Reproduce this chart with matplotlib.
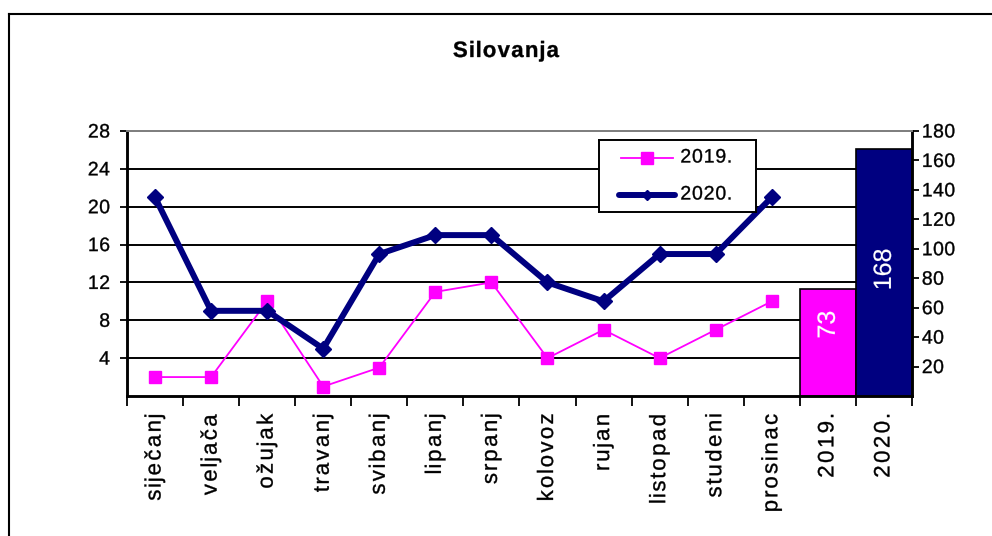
import matplotlib
matplotlib.use("Agg")
import numpy as np
import matplotlib.pyplot as plt
from matplotlib.lines import Line2D
from matplotlib.path import Path
from matplotlib.patheffects import AbstractPathEffect

plt.rcParams["font.family"] = ["Liberation Sans", "DejaVu Sans"]

months = ["siječanj", "veljača", "ožujak", "travanj", "svibanj", "lipanj",
          "srpanj", "kolovoz", "rujan", "listopad", "studeni", "prosinac"]
total_labels = ["2019.", "2020."]
cases_2019 = [2, 2, 10, 1, 3, 11, 12, 4, 7, 4, 7, 10]
cases_2020 = [21, 9, 9, 5, 15, 17, 17, 12, 10, 15, 15, 21]
totals = [73, 168]

MAGENTA = "#FF00FF"
NAVY = "#000080"


class Spaced(AbstractPathEffect):
    """Spread the glyphs of a text apart and thicken them a little
    (the original is rendered with loose, heavy lettering)."""

    def __init__(self, factor=1.0, anchor="center", stroke=0.25):
        super().__init__()
        self.factor = factor
        self.anchor = anchor
        self.stroke = stroke

    def draw_path(self, renderer, gc, tpath, affine, rgbFace=None):
        codes = tpath.codes
        verts = tpath.vertices.copy()
        if codes is not None and len(verts) and self.factor != 1:
            real = codes != Path.CLOSEPOLY
            xmin, xmax = verts[real, 0].min(), verts[real, 0].max()
            ref = {"left": xmin, "center": (xmin + xmax) / 2,
                   "right": xmax}[self.anchor]
            starts = np.flatnonzero(codes == Path.MOVETO)
            ends = np.append(starts[1:], len(verts))
            for s, e in zip(starts, ends):
                xs = verts[s:e, 0][real[s:e]]
                cx = (xs.min() + xs.max()) / 2
                verts[s:e, 0] += (self.factor - 1) * (cx - ref)
        gc0 = renderer.new_gc()
        gc0.copy_properties(gc)
        if rgbFace is not None:
            gc0.set_foreground(rgbFace)
            gc0.set_linewidth(self.stroke)
        renderer.draw_path(gc0, Path(verts, codes), affine, rgbFace)
        gc0.restore()


fig = plt.figure(figsize=(9.92, 5.36), dpi=100)
ax = fig.add_axes([0.128, 0.2612, 0.7913, 0.4944])
ax2 = ax.twinx()

x_months = list(range(len(months)))
x_totals = [len(months) + i for i in range(len(totals))]
categories = months + total_labels

ax.plot(x_months, cases_2019, color=MAGENTA, lw=1.3, marker="s", ms=9,
        zorder=3)
ax.plot(x_months, cases_2020, color=NAVY, lw=4.3, marker="D", ms=8.5,
        zorder=4)

ax2.bar(x_totals, totals, width=1.0, color=[MAGENTA, NAVY],
        edgecolor="black", linewidth=1.2)
label_shift = [12, 2]
for xb, v, dy in zip(x_totals, totals, label_shift):
    ax2.text(xb, v / 2 + dy, str(v), rotation=90, ha="center", va="center",
             color="white", fontsize=18, path_effects=[Spaced(stroke=0.15)])

# left axis
ax.set_xlim(-0.5, len(categories) - 0.5)
ax.set_ylim(0, 28)
ax.set_yticks(range(4, 29, 4))
ax.yaxis.grid(True, color="black", lw=1.4)
ax.set_axisbelow(True)
ax.set_xticks([i - 0.5 for i in range(len(categories) + 1)])
ax.set_xticklabels([])
ax.set_xticks(range(len(categories)), minor=True)
ax.set_xticklabels(categories, minor=True, rotation=90, ha="center",
                   va="top", fontsize=16)
ax.tick_params(axis="x", which="major", direction="out", length=7,
               width=1.3, color="black")
ax.tick_params(axis="x", which="minor", length=0, pad=12)
ax.tick_params(axis="y", direction="out", length=5, width=1.3,
               labelsize=14, pad=7)
for t in ax.get_xticklabels(minor=True):
    t.set_path_effects([Spaced(1.2, "right")])
for t in ax.get_yticklabels():
    t.set_path_effects([Spaced(1.04, "right")])

# right axis
ax2.set_ylim(0, 180)
ax2.set_yticks(range(20, 181, 20))
ax2.tick_params(axis="y", direction="out", length=5, width=1.3,
                labelsize=14, pad=2)
for t in ax2.get_yticklabels():
    t.set_path_effects([Spaced(1.04, "left")])

for a in (ax, ax2):
    a.spines["top"].set_color("#808080")
    a.spines["top"].set_linewidth(1.4)
    for side in ("left", "right", "bottom"):
        a.spines[side].set_linewidth(1.8)

# legend box, drawn as its own small axes (units: pixels inside the box)
lg = fig.add_axes([0.6038, 0.6045, 0.1583, 0.1343])
lg.set_xlim(0, 157)
lg.set_ylim(72, 0)
lg.set_xticks([])
lg.set_yticks([])
for sp in lg.spines.values():
    sp.set_linewidth(1.4)
lg.plot([22, 74], [18, 18], color=MAGENTA, lw=1.3)
lg.plot([48], [18], color=MAGENTA, marker="s", ms=8)
lg.plot([20, 76], [55, 55], color=NAVY, lw=4.3, solid_capstyle="round")
lg.plot([48], [55], color=NAVY, marker="D", ms=5)
for yy, txt in zip([18, 55], ["2019.", "2020."]):
    lg.text(81, yy, txt, fontsize=14, ha="left", va="center",
            path_effects=[Spaced(1.08, "left")])

fig.text(0.51, 1 - 57 / 536, "Silovanja", ha="center", va="baseline",
         fontsize=16, fontweight="bold", path_effects=[Spaced(1.1, "center")])

# outer chart frame
fig.add_artist(Line2D([0.009, 1.0], [0.974, 0.974], color="black", lw=1.5))
fig.add_artist(Line2D([0.009, 0.009], [0.0, 0.974], color="black", lw=1.5))

fig.savefig("out.png", dpi=100)
